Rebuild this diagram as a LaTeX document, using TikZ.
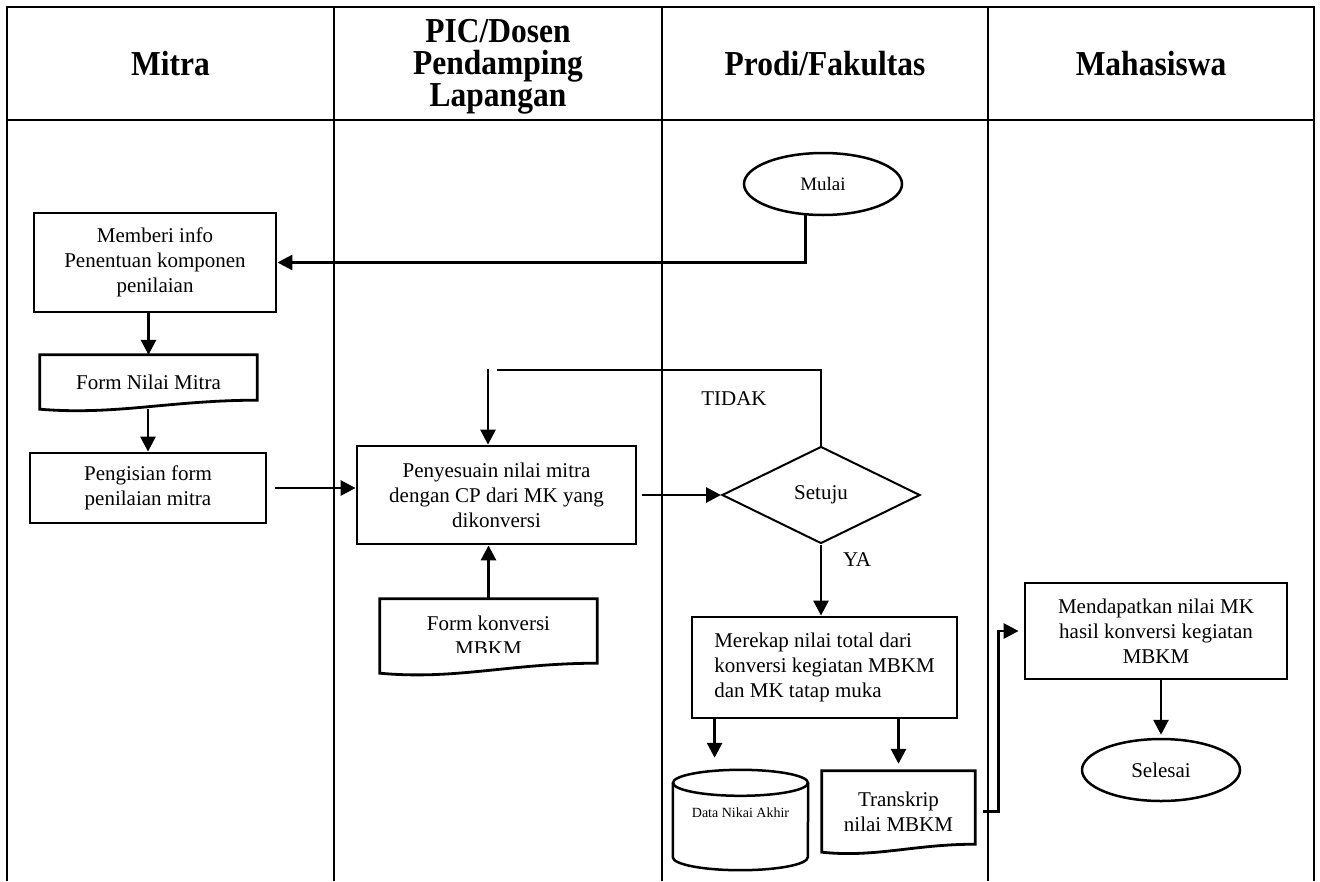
\documentclass[tikz,border=0pt]{standalone}
\usepackage{fontspec}
\setmainfont{Liberation Serif}
\newfontfamily\headfamily[FakeStretch=0.9]{Liberation Serif}
\usetikzlibrary{arrows.meta,shapes.geometric,calc}
\newcommand\fhead{\headfamily\fontsize{35}{32}\selectfont\bfseries}
\newcommand\fbody{\fontsize{21}{25}\selectfont}
\newcommand\fsmall{\fontsize{14}{16}\selectfont}
\newcommand\fmulai{\fontsize{19}{22}\selectfont}
\newcommand\docpath[2]{%
  \draw[docline] (#1.south west) -- (#1.north west) -- (#1.north east) -- ($(#1.south east)+(0,-#2)$)
    .. controls ($(#1.south west)!0.6!(#1.south east)+(0,-#2)$) and ($(#1.south west)!0.35!(#1.south east)+(0,0.7*#2)$) .. (#1.south west) -- cycle;}
\begin{document}
\begin{tikzpicture}[x=1pt,y=-1pt,
  lane/.style={line width=1.5pt},
  head/.style={font=\fhead, align=center, inner sep=0pt},
  box/.style={draw, line width=2.8pt, align=center, inner sep=0pt, font=\fbody},
  docn/.style={align=center, inner sep=0pt, font=\fbody},
  docline/.style={line width=2.8pt, line join=miter},
  term/.style={ellipse, draw, line width=2.5pt, inner sep=0pt},
  arr/.style={line width=2.8pt, -{Triangle[length=15pt,width=15pt]}},
  thin/.style={line width=1.8pt},
  lbl/.style={font=\fbody, inner sep=0pt}
]
\useasboundingbox (0,0) rectangle (1320,881);
\fill[white] (0,0) rectangle (1320,881);

% swimlane grid
\draw[lane] (7,881) -- (7,7) -- (1314,7) -- (1314,881);
\draw[lane] (7,120) -- (1314,120);
\foreach \x in {334,662,988} \draw[lane] (\x,7) -- (\x,881);

% headers
\node[head] (hMitra) at (170.5,64) {Mitra};
\node[head] (hPIC) at (498,67) {PIC/Dosen\\Pendamping\\Lapangan};
\node[head] (hProdi) at (825,64) {Prodi/Fakultas};
\node[head] (hMhs) at (1151,64) {Mahasiswa};

% nodes
\node[term, minimum width=158pt, minimum height=62pt, font=\fmulai] (mulai) at (823,184) {Mulai};
\node[box, minimum width=242pt, minimum height=99pt] (memberi) at (155,262.5) {Memberi info\\Penentuan komponen\\penilaian};
\node[docn, minimum width=217pt, minimum height=54pt] (fnm) at (148.5,382) {Form Nilai Mitra};
\docpath{fnm}{9}
\node[box, minimum width=236pt, minimum height=70pt] (pengisian) at (148,488) {Pengisian form\\penilaian mitra};
\node[box, minimum width=279pt, minimum height=98pt] (penyesuaian) at (496.5,495) {Penyesuain nilai mitra\\dengan CP dari MK yang\\dikonversi};
\begin{scope}
\clip (370,590) rectangle (610,652);
\node[docn, minimum width=217pt, minimum height=74pt] (fkm) at (488.5,636) {Form konversi\\MBKM};
\end{scope}
\docpath{fkm}{10}
\node[diamond, draw, line width=2pt, minimum width=198pt, minimum height=97pt, aspect=2.04, inner sep=0pt, font=\fbody] (setuju) at (821,495) {Setuju};
\node[box, align=left, minimum width=265pt, minimum height=101pt] (merekap) at (824.5,667.5) {Merekap nilai total dari\\konversi kegiatan MBKM\\dan MK tatap muka};
\node[inner sep=0pt, minimum width=135pt, minimum height=100pt] (dna) at (740.5,820) {};
\draw[line width=2.5pt] ($(dna.north west)+(0,13)$) -- ($(dna.south west)+(0,-13)$) arc[start angle=180, end angle=0, x radius=67.5, y radius=13] -- ($(dna.north east)+(0,13)$);
\draw[line width=2.5pt] ($(dna.north)+(0,13)$) ellipse[x radius=67.5, y radius=13];
\node[font=\fsmall, inner sep=0pt] (dnatext) at (740.5,813) {Data Nikai Akhir};
\node[docn, minimum width=153pt, minimum height=81pt] (transkrip) at (898.5,811.5) {Transkrip\\nilai MBKM};
\docpath{transkrip}{8}
\node[box, minimum width=262pt, minimum height=96pt] (mendapatkan) at (1156,631) {Mendapatkan nilai MK\\hasil konversi kegiatan\\MBKM};
\node[term, minimum width=158pt, minimum height=62pt, font=\fbody] (selesai) at (1161,770) {Selesai};

% labels
\node[lbl] (tidak) at (734,399) {TIDAK};
\node[lbl] (ya) at (857,560) {YA};

% connectors
\draw[arr] (mulai.241) |- (memberi.east);
\draw[arr] (fnm.north |- memberi.south) -- (fnm.north);
\draw[arr] (pengisian.north |- fnm.south) -- (pengisian.north);
\draw[arr] ([xshift=8pt]pengisian.east) -- (pengisian.east -| penyesuaian.west);
\draw[arr] (fkm.north) -- (fkm.north |- penyesuaian.south);
\draw[arr] ([xshift=5pt]penyesuaian.east) -- (setuju.west);
\coordinate (fbA) at (497,370);
\coordinate (fbB) at (488,369);
\draw[thin] (setuju.north) |- (fbA);
\draw[arr] (fbB) -- (fbB |- penyesuaian.north);
\draw[arr] (setuju.south) -- (setuju.south |- merekap.north);
\coordinate (mk1) at ($(merekap.south west)+(24,0)$);
\draw[arr, shorten >=12pt] (mk1) -- (mk1 |- dna.north);
\draw[arr, shorten >=7pt] (transkrip.north |- merekap.south) -- (transkrip.north);
\coordinate (tk1) at ($(mendapatkan.west)+(-25,0)$);
\draw[arr, shorten >=5pt] ([xshift=8pt]transkrip.east) -| (tk1) -- (mendapatkan.west);
\draw[arr, shorten >=3pt] (selesai.north |- mendapatkan.south) -- (selesai.north);
\end{tikzpicture}
\end{document}
